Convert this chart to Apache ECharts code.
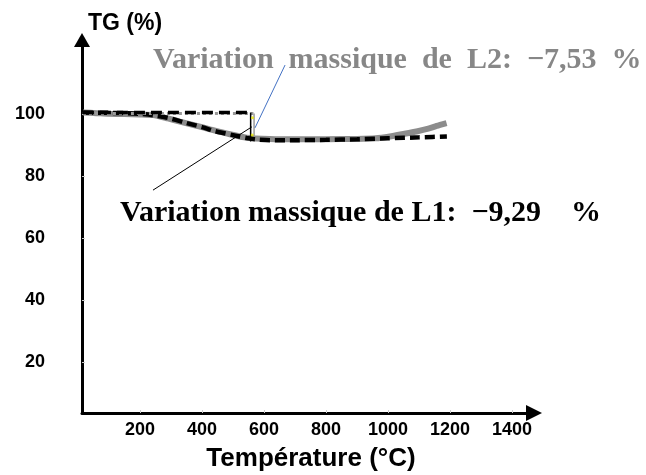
<!DOCTYPE html>
<html>
<head>
<meta charset="utf-8">
<script src="https://cdn.jsdelivr.net/npm/echarts@6/dist/echarts.min.js"></script>
<style>
html,body{margin:0;padding:0;background:#fff;}
#chart{width:646px;height:475px;}
</style>
</head>
<body>
<div id="chart"></div>
<script>
// ---- data ----
const xTicks = [200, 400, 600, 800, 1000, 1200, 1400];
const yTicks = [20, 40, 60, 80, 100];

const tempL1 = [16, 100, 150, 200, 243, 290, 340, 400, 442, 496, 544, 580, 620, 700, 800, 900, 1000, 1100, 1190];
const tgL1   = [100.5, 100.4, 100.3, 100.1, 99.6, 98.8, 97.4, 95.8, 94.5, 93.3, 92.3, 91.8, 91.6, 91.6, 91.7, 91.9, 92.2, 92.5, 92.8];

const tempL2 = [16, 60, 100, 150, 200, 243, 290, 329, 380, 426, 490, 544, 619, 700, 800, 900, 960, 1006, 1050, 1092, 1130, 1157, 1189];
const tgL2   = [100.5, 100.3, 100.1, 100.0, 99.9, 99.7, 98.6, 97.6, 96.3, 95.1, 93.5, 92.4, 92.0, 91.9, 91.9, 92.0, 92.2, 92.8, 93.6, 94.4, 95.3, 96.2, 97.1];

// reference levels and mass-loss markers
const refL1Temp = [16, 558];   const refL1Tg = [100.5, 100.5];
const refL2Temp = [16, 566];   const refL2Tg = [100.2, 100.2];
const markL1Temp = [557, 557]; const markL1Tg = [100.5, 91.2];
const markL2Temp = [568, 568]; const markL2Tg = [100.2, 92.7];
const handleTemp = [563, 562]; const handleTg = [98.8, 93.3];

// leader lines of the annotations
const leadL2Temp = [668, 571]; const leadL2Tg = [115.8, 95.55];
const leadL1Temp = [242, 561]; const leadL1Tg = [75.5, 95.9];

const labelL1 = 'Variation massique de L1:  −9,29    %';
const labelL2 = 'Variation  massique  de  L2:  −7,53  %';

const zip = (a, b) => a.map((v, i) => [v, b[i]]);

const chart = echarts.init(document.getElementById('chart'), null, {renderer: 'canvas'});
const lineBase = {type: 'line', showSymbol: false, animation: false, silent: true};
const txt = (text, x, y, size, family, color, align) => ({
  type: 'text', x: x, y: y, silent: true,
  style: {text: text, fill: color, fontSize: size, fontFamily: family, fontWeight: 'bold',
    align: align, verticalAlign: 'middle', textAlign: align, textVerticalAlign: 'middle'}
});
chart.setOption({
  animation: false,
  backgroundColor: '#ffffff',
  grid: {left: 82, right: 112, top: 40, bottom: 62, outerBoundsMode: 'none'},
  xAxis: {
    type: 'value', min: 13, max: 1471,
    splitLine: {show: false},
    axisLine: {onZero: false, lineStyle: {color: '#000', width: 3}, symbol: ['none', 'triangle'], symbolSize: [16, 16]},
    axisTick: {show: true, inside: true, length: 3, customValues: xTicks, lineStyle: {color: '#cccccc', width: 1}},
    axisLabel: {customValues: xTicks, margin: 8, color: '#000', fontFamily: 'Liberation Sans', fontWeight: 'bold', fontSize: 18,
      formatter: v => String(v)}
  },
  yAxis: {
    type: 'value', min: 3.7, max: 123.87,
    splitLine: {show: false},
    axisLine: {onZero: false, lineStyle: {color: '#000', width: 3}, symbol: ['none', 'triangle'], symbolSize: [16, 14]},
    axisTick: {show: true, inside: true, length: 3, customValues: yTicks, lineStyle: {color: '#cccccc', width: 1}},
    axisLabel: {customValues: yTicks, margin: 37, color: '#000', fontFamily: 'Liberation Sans', fontWeight: 'bold', fontSize: 18,
      formatter: v => String(v)}
  },
  series: [
    Object.assign({}, lineBase, {name: 'L2', data: zip(tempL2, tgL2), smooth: 0.2, z: 2,
      lineStyle: {color: '#8c8c8c', width: 6}}),
    Object.assign({}, lineBase, {name: 'L1', data: zip(tempL1, tgL1), smooth: 0.2, z: 3,
      lineStyle: {color: '#000', width: 4.5, type: [10, 5]}}),
    Object.assign({}, lineBase, {name: 'ref L2', data: zip(refL2Temp, refL2Tg), z: 3,
      lineStyle: {color: '#999', width: 3, type: [3, 3]}}),
    Object.assign({}, lineBase, {name: 'ref L1', data: zip(refL1Temp, refL1Tg), z: 4,
      lineStyle: {color: '#000', width: 3.5, type: [11, 6]}}),
    Object.assign({}, lineBase, {name: 'mark L1', data: zip(markL1Temp, markL1Tg), z: 5,
      lineStyle: {color: '#000', width: 1.5}}),
    Object.assign({}, lineBase, {name: 'mark L2', data: zip(markL2Temp, markL2Tg), z: 5,
      lineStyle: {color: '#9a9a9a', width: 1.5}}),
    Object.assign({}, lineBase, {name: 'lead L2', data: zip(leadL2Temp, leadL2Tg), z: 6,
      lineStyle: {color: '#4472c4', width: 1}}),
    Object.assign({}, lineBase, {name: 'lead L1', data: zip(leadL1Temp, leadL1Tg), z: 6,
      lineStyle: {color: '#000', width: 1}}),
    {type: 'scatter', name: 'handles', data: zip(handleTemp, handleTg), symbolSize: 3, silent: true, z: 7,
      itemStyle: {color: '#e6e600'}, animation: false}
  ],
  graphic: [
    txt('TG (%)', 88, 24, 23, 'Liberation Sans', '#000', 'left'),
    txt('Température (°C)', 311, 458.5, 26, 'Liberation Sans', '#000', 'center'),
    txt(labelL2, 153, 60.5, 30, 'Liberation Serif', '#878787', 'left'),
    txt(labelL1, 120, 213, 30, 'Liberation Serif', '#000', 'left')
  ]
});
</script>
</body>
</html>
